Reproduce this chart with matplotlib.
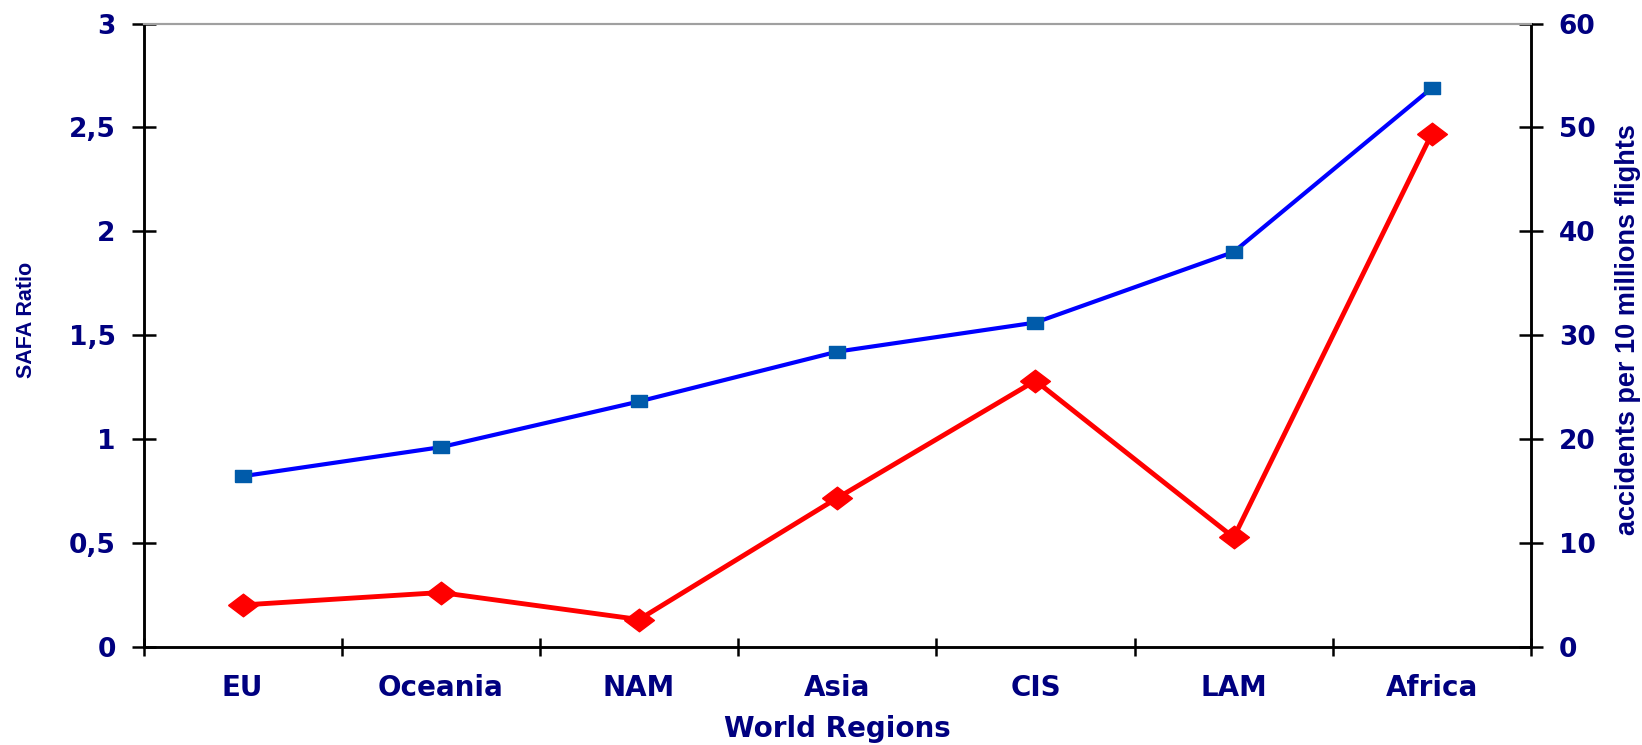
import matplotlib
matplotlib.use("Agg")
import matplotlib.pyplot as plt

regions = ["EU", "Oceania", "NAM", "Asia", "CIS", "LAM", "Africa"]
safa_ratio = [0.82, 0.96, 1.18, 1.42, 1.56, 1.90, 2.69]
accidents = [4.0, 5.2, 2.6, 14.3, 25.6, 10.5, 49.4]

left_ticks = [0, 0.5, 1, 1.5, 2, 2.5, 3]
left_labels = ["0", "0,5", "1", "1,5", "2", "2,5", "3"]
right_ticks = [0, 10, 20, 30, 40, 50, 60]

navy = "#000080"
plt.rcParams['font.family'] = ['DejaVu Sans']

fig = plt.figure(figsize=(16.42, 7.45), dpi=100)
ax = fig.add_axes([0.0874, 0.1322, 0.845, 0.8362])
ax2 = ax.twinx()

x = list(range(len(regions)))
# flat square and wide diamond markers like the original
box = [(-1, -0.75), (1, -0.75), (1, 0.75), (-1, 0.75), (-1, -0.75)]
diamond = [(-1.32, 0), (0, 1), (1.32, 0), (0, -1), (-1.32, 0)]
ax.plot(x, safa_ratio, color="#0000FF", lw=3.0, marker=box, ms=11.5,
        mfc="#005BAA", mec="#005BAA", zorder=3)
ax2.plot(x, accidents, color="#FF0000", lw=3.5, marker=diamond, ms=21.5,
         mfc="#FF0000", mec="#FF0000", zorder=3)

ax.set_xlim(-0.5, len(regions) - 0.5)
ax.set_ylim(0, 3)
ax2.set_ylim(0, 60)

# category ticks sit between categories, labels in the middle
ax.set_xticks([i - 0.5 for i in range(len(regions) + 1)])
ax.set_xticklabels([])
ax.set_xticks(x, minor=True)
ax.set_xticklabels(regions, minor=True, fontsize=20, fontweight="bold", color=navy)
ax.tick_params(axis="x", which="major", direction="inout", length=13, width=1.8)
ax.tick_params(axis="x", which="minor", length=0, pad=20)

ax.set_yticks(left_ticks)
ax.set_yticklabels(left_labels, fontsize=19, fontweight="bold", color=navy)
ax.tick_params(axis="y", direction="inout", length=17, width=1.8, pad=11.5)

ax2.set_yticks(right_ticks)
ax2.set_yticklabels([str(t) for t in right_ticks], fontsize=19, fontweight="bold", color=navy)
ax2.tick_params(axis="y", direction="inout", length=17, width=1.8, pad=11.5)

for a in (ax, ax2):
    a.spines["top"].set_color("#A0A0A0")
    a.spines["top"].set_linewidth(1.5)
    for s in ("left", "right", "bottom"):
        a.spines[s].set_color("black")
        a.spines[s].set_linewidth(1.8)

fig.text(0.5097, 0.022, "World Regions", ha="center", va="center", fontsize=20,
         fontweight="bold", color=navy)
fig.text(0.016, 0.57, "SAFA Ratio", rotation=90, ha="center", va="center",
         fontsize=15.5, fontweight="bold", color=navy, family="Liberation Sans")
fig.text(0.9915, 0.557, "accidents per 10 millions flights", rotation=90, ha="center",
         va="center", fontsize=19.5, fontweight="bold", color=navy,
         family="Liberation Sans")

fig.savefig("out.png", dpi=100)
